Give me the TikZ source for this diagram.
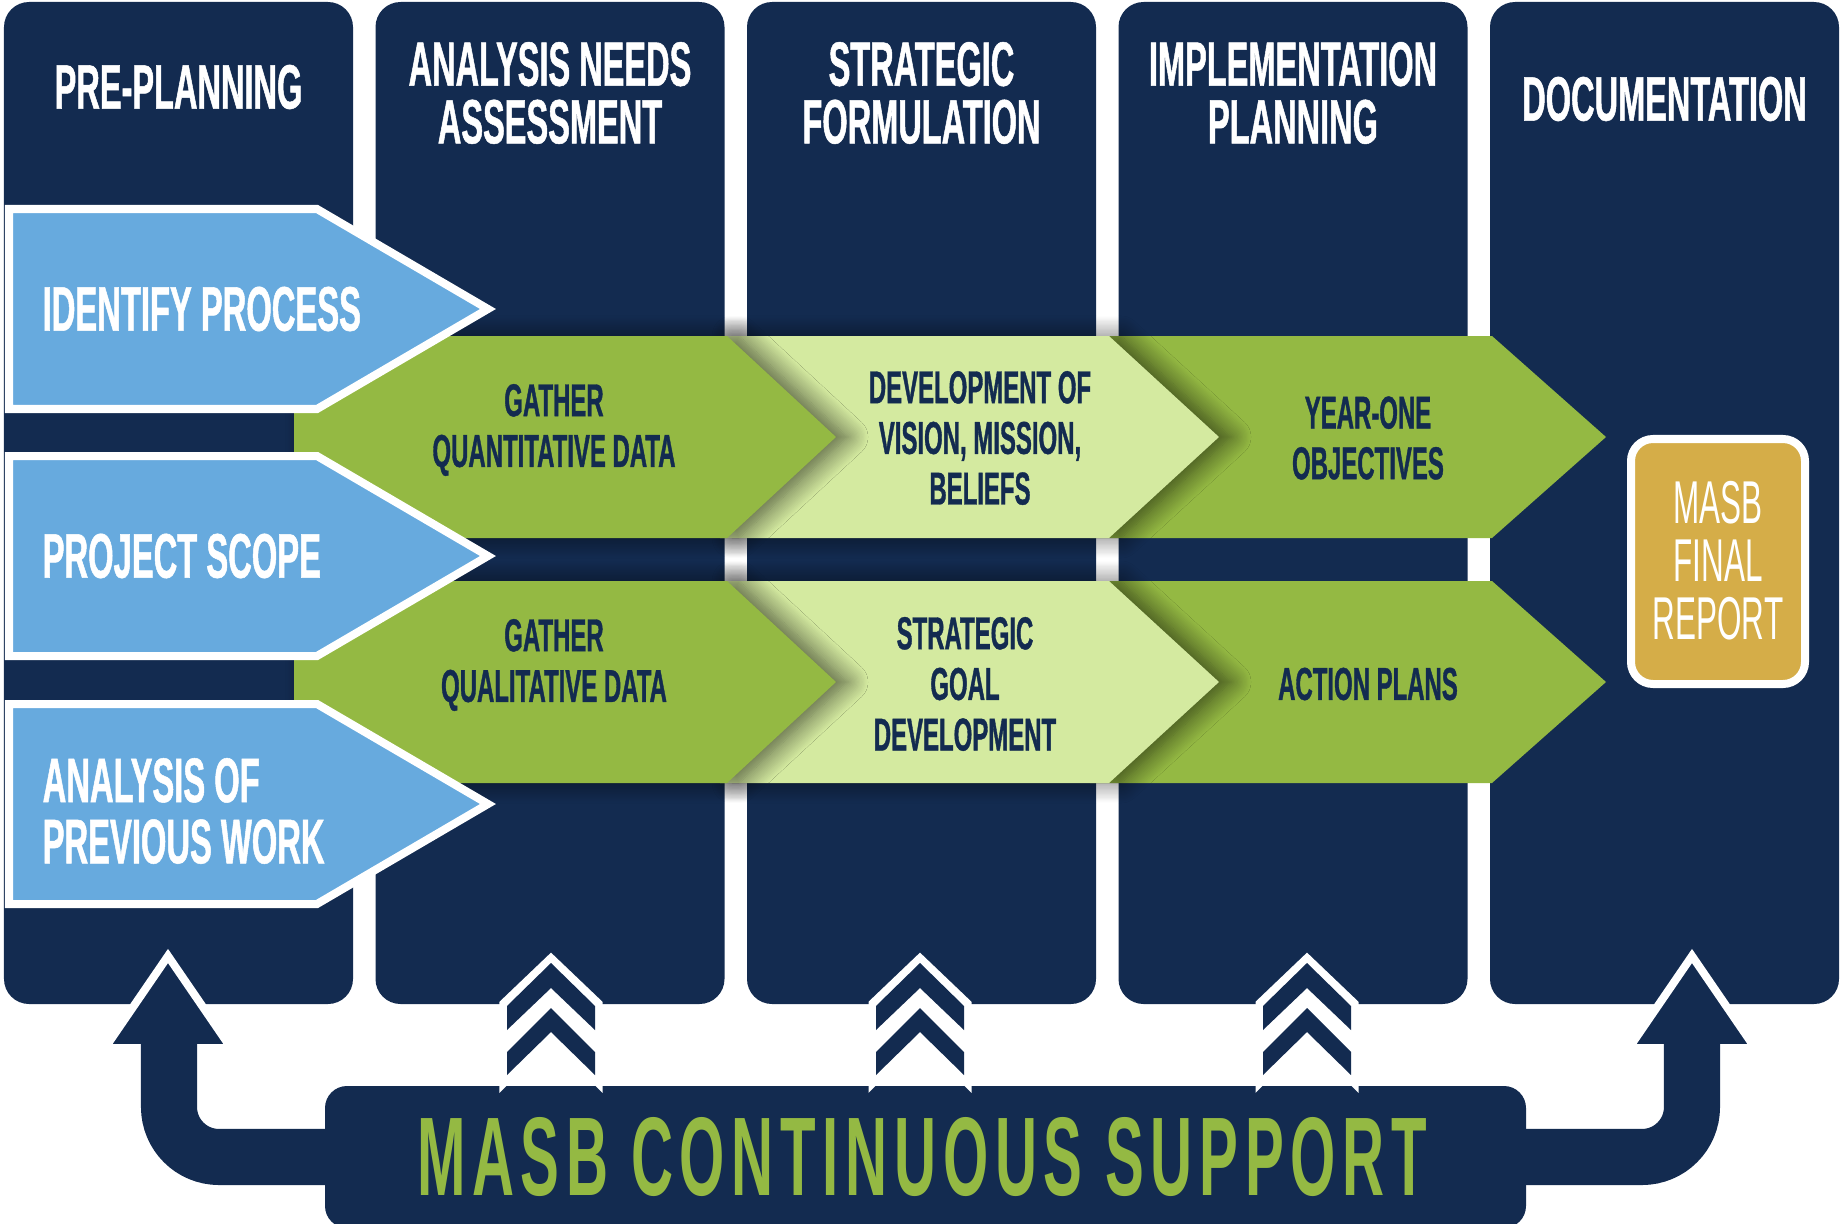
\documentclass[tikz,border=0pt]{standalone}
\usepackage{fontspec}
\usetikzlibrary{shadows.blur}
\newfontfamily\condfont[FakeStretch=0.52,BoldFeatures={FakeBold=0.8}]{Liberation Sans}
\newfontfamily\supportfont[FakeStretch=0.52,LetterSpace=6]{Liberation Sans}
\definecolor{navy}{HTML}{132B50}
\definecolor{skyblue}{HTML}{67AADE}
\definecolor{leaf}{HTML}{94B943}
\definecolor{lime}{HTML}{D4EAA0}
\definecolor{gold}{HTML}{D5AD48}
\tikzset{
	column/.style={fill=navy, rounded corners=0.25cm},
	drop/.style={blur shadow={shadow xshift=0.12cm, shadow yshift=0cm, shadow blur radius=0.2cm, shadow blur steps=16, shadow opacity=60}},
	blue arrow/.style={fill=skyblue, draw=white, line width=0.08cm, line join=miter},
	head/.style={text=white, inner sep=0pt, align=center, font=\condfont\bfseries\fontsize{17.8pt}{16.4pt}\selectfont},
	task/.style={text=white, inner sep=0pt, anchor=west, align=left, font=\condfont\bfseries\fontsize{17.9pt}{17.4pt}\selectfont},
	stage/.style={text=navy, inner sep=0pt, align=center, font=\condfont\bfseries\fontsize{13.1pt}{14.4pt}\selectfont},
	report/.style={text=white, inner sep=0pt, align=center, font=\condfont\fontsize{17.2pt}{16.5pt}\selectfont},
	support/.style={text=leaf, inner sep=0pt, font=\supportfont\bfseries\fontsize{31.8pt}{36pt}\selectfont},
	u arrow/.style={navy, line width=0.56cm, rounded corners=0.5cm},
	u head/.style={fill=navy, draw=white, line width=0.08cm, line join=miter}
}
\begin{document}
\begin{tikzpicture}[x=0.01cm, y=-0.01cm]
	\useasboundingbox (0,0) rectangle (1841,1224);
	% columns
	\foreach \i in {0,...,4}
		\fill[column] (4+\i*371.5,2) rectangle (353+\i*371.5,1004);
	% green rows
	\foreach \t in {336,581} {
		\fill[leaf] (1090,\t) -- (1492,\t) -- (1606,\t+101) -- (1492,\t+202) -- (1090,\t+202) -- cycle;
		\fill[lime, drop] (720,\t) -- (1109,\t) -- (1219,\t+101) -- (1109,\t+202) -- (720,\t+202) -- cycle;
		\fill[leaf, drop] (294,\t) -- (727,\t) -- (836,\t+101) -- (727,\t+202) -- (294,\t+202) -- cycle;
	}
	% blue arrows
	\foreach \c in {309,556,804}
		\draw[blue arrow] (9,\c-100) -- (317,\c-100) -- (488,\c) -- (317,\c+100) -- (9,\c+100) -- cycle;
	\draw[fill=gold, draw=white, line width=0.08cm, rounded corners=0.22cm] (1631,439) rectangle (1805,684);
	% support
	\draw[u head] (168,956) -- (231,1048) -- (105,1048) -- cycle;
	\draw[u head] (1692,956) -- (1755,1048) -- (1629,1048) -- cycle;
	\draw[u arrow] (169,1044) |- (340,1157);
	\draw[u arrow] (1692,1044) |- (1510,1157);
	\fill[navy, rounded corners=0.22cm] (325,1086) rectangle (1526,1228);
	\foreach \cx in {551,920,1307} {
		\draw[fill=white, draw=white, line width=0.15cm, line join=miter] (\cx,963) -- (\cx+44,1005) -- (\cx+44,1075) -- (\cx,1032) -- (\cx-44,1075) -- (\cx-44,1005) -- cycle;
		\fill[navy] (\cx,963) -- (\cx+44,1006) -- (\cx+44,1030) -- (\cx,988) -- (\cx-44,1030) -- (\cx-44,1006) -- cycle;
		\fill[navy] (\cx,1008) -- (\cx+44,1052) -- (\cx+44,1075) -- (\cx,1032) -- (\cx-44,1075) -- (\cx-44,1052) -- cycle;
	}
	% texts
	\node[head] (pre) at (178.5,87) {PRE-PLANNING};
	\node[head] (needs) at (550,93) {ANALYSIS NEEDS\\ASSESSMENT};
	\node[head] (formul) at (921.5,93) {STRATEGIC\\FORMULATION};
	\node[head] (implem) at (1293,93) {IMPLEMENTATION\\PLANNING};
	\node[head] (docu) at (1664.5,99) {DOCUMENTATION};
	\node[task] (identify) at (42,309) {IDENTIFY PROCESS};
	\node[task] (scope) at (42,556) {PROJECT SCOPE};
	\node[task] (previous) at (42,811) {ANALYSIS OF\\PREVIOUS WORK};
	\node[stage] (quant) at (554,430) {GATHER\\QUANTITATIVE DATA};
	\node[stage] (qual) at (554,665) {GATHER\\QUALITATIVE DATA};
	\node[stage] (vision) at (980,438) {DEVELOPMENT OF\\VISION, MISSION,\\BELIEFS};
	\node[stage] (goal) at (965,684) {STRATEGIC\\GOAL\\DEVELOPMENT};
	\node[stage] (yearone) at (1368,438) {YEAR-ONE\\OBJECTIVES};
	\node[stage] (action) at (1368,684) {ACTION PLANS};
	\node[report] (report) at (1718,561) {MASB\\FINAL\\REPORT};
	\node[support] (support) at (922,1157) {MASB CONTINUOUS SUPPORT};
\end{tikzpicture}
\end{document}
